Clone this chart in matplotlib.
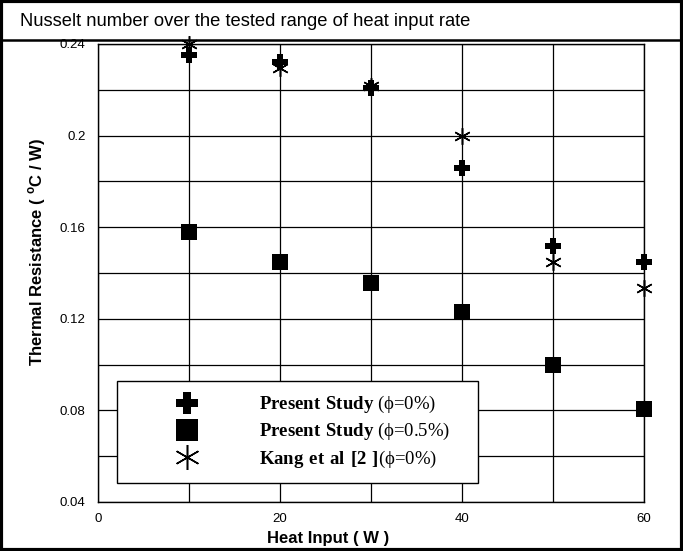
import matplotlib
matplotlib.use("Agg")
import matplotlib.pyplot as plt
from matplotlib.lines import Line2D
from matplotlib.patches import Rectangle

plt.rcParams['font.family'] = ['Liberation Sans', 'DejaVu Sans']
plt.rcParams['mathtext.fontset'] = 'custom'
plt.rcParams['mathtext.rm'] = 'Liberation Serif'
plt.rcParams['mathtext.bf'] = 'Liberation Serif:bold'
plt.rcParams['mathtext.sf'] = 'Liberation Sans:bold'

heat_input = [10, 20, 30, 40, 50, 60]
present_0 = [0.235, 0.232, 0.221, 0.186, 0.152, 0.145]
present_05 = [0.158, 0.145, 0.1355, 0.123, 0.100, 0.0805]
kang_0 = [0.240, 0.2295, 0.2215, 0.200, 0.145, 0.1335]

labels = [r"$\mathbf{Present\ Study}$ ($\mathrm{\phi}$=0%)",
          r"$\mathbf{Present\ Study}$ ($\mathrm{\phi}$=0.5%)",
          r"$\mathbf{Kang\ et\ al\ [2\ ]}$($\mathrm{\phi}$=0%)"]

xticks = [0, 20, 40, 60]
yticks = [0.04, 0.08, 0.12, 0.16, 0.2, 0.24]
ytick_labels = ["0.04", "0.08", "0.12", "0.16", "0.2", "0.24"]

fig = plt.figure(figsize=(6.83, 5.51), dpi=100)
ax = fig.add_axes([98/683, 1-502/551, 546/683, 458/551])

ax.plot(heat_input, present_0, linestyle='none', marker='P', markersize=11,
        color='black', markeredgewidth=0, label=labels[0], zorder=5, clip_on=False)
ax.plot(heat_input, present_05, linestyle='none', marker='s', markersize=11,
        color='black', markeredgewidth=0, label=labels[1], zorder=5, clip_on=False)
ax.plot(heat_input, kang_0, linestyle='none', marker=(6, 2, 0), markersize=12,
        color='black', markeredgewidth=1.1, label=labels[2], zorder=5, clip_on=False)

ax.set_xlim(0, 60)
ax.set_ylim(0.04, 0.24)
ax.set_xticks(xticks)
ax.set_xticklabels([str(v) for v in xticks])
ax.set_yticks(yticks)
ax.set_yticklabels(ytick_labels)
ax.set_xticks(range(0, 61, 10), minor=True)
ax.set_yticks([0.04 + 0.02 * i for i in range(11)], minor=True)
ax.grid(True, which='both', color='black', linewidth=0.9)
ax.set_axisbelow(True)
ax.tick_params(which='both', length=0)
ax.tick_params(axis='y', pad=9, labelsize=9.5)
ax.tick_params(axis='x', pad=8, labelsize=9.5)
for s in ax.spines.values():
    s.set_linewidth(1.0)
    s.set_color('black')

fig.text(328/683, 1-538/551, "Heat Input ( W )", fontsize=12, fontweight='bold',
         ha='center', va='center')
fig.text(37/683, 1-252/551, r"Thermal Resistance ( $^{\mathsf{o}}$C / W)", fontsize=12,
         fontweight='bold', ha='center', va='center', rotation=90)

leg = ax.legend(loc='upper left', bbox_to_anchor=(0.0348, 0.0524, 0.661, 0.212),
                mode='expand', prop={'family': 'Liberation Serif', 'size': 13.5},
                frameon=True, fancybox=False,
                edgecolor='black', framealpha=1, borderpad=0.7,
                handlelength=6.1, handletextpad=0.75, labelspacing=0.33,
                borderaxespad=0, markerscale=1.5)
leg.get_frame().set_linewidth(1.0)

# Title band
fig.text(20/683, 1-22/551, "Nusselt number over the tested range of heat input rate",
         fontsize=13.2, ha='left', va='center')
fig.add_artist(Line2D([0, 1], [1-40/551, 1-40/551], transform=fig.transFigure,
                      color='black', linewidth=1.8))
fig.add_artist(Rectangle((0.002, 0.002), 0.996, 0.996, transform=fig.transFigure,
                         fill=False, edgecolor='black', linewidth=3))

fig.savefig("out.png", dpi=100)
